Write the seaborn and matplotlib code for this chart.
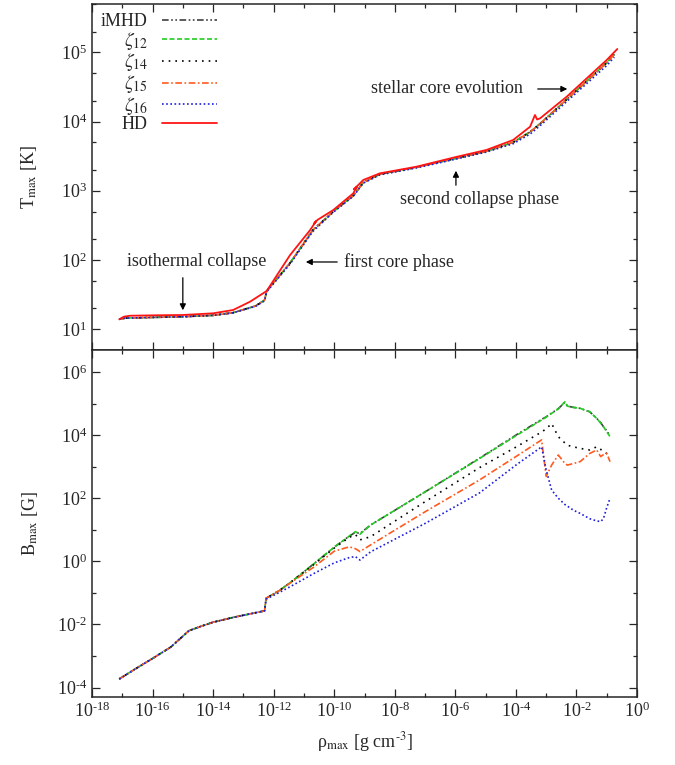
import numpy as np
import pandas as pd
import seaborn as sns
import matplotlib
matplotlib.use('Agg')
import matplotlib.pyplot as plt
from matplotlib.ticker import FixedLocator, LogLocator, NullFormatter, FuncFormatter

# 数据: log10(rho_max), log10(T_max), log10(B_max)，从原图上读出来的
# 上面板 T_max
lrho_T_hd = [-17.10, -16.95, -16.75, -16.0, -15.0, -14.0, -13.34, -12.78, -12.23, -11.46,
             -10.80, -10.60, -10.66, -10.55, -10.03, -9.37, -9.25, -9.35, -9.04, -8.49,
             -7.28, -5.96, -4.97, -4.09, -3.53, -3.37, -3.30, -3.20, -2.32, -1.00, -0.65]
lT_hd = [1.143, 1.18, 1.194, 1.20, 1.205, 1.229, 1.277, 1.397, 1.552, 2.07,
         2.43, 2.56, 2.53, 2.58, 2.722, 2.963, 3.06, 3.02, 3.156, 3.252,
         3.348, 3.49, 3.59, 3.734, 3.926, 4.095, 4.03, 4.047, 4.36, 4.89, 5.049]

lrho_T_mhd = [-17.10, -16.9, -16.0, -15.0, -14.0, -13.34, -12.6, -12.3, -12.23, -11.46,
              -10.71, -10.03, -9.37, -9.04, -8.49, -7.28, -5.96, -4.97, -4.09, -3.53,
              -3.2, -2.32, -1.0, -0.75]
lT_mhd = [1.143, 1.16, 1.17, 1.18, 1.20, 1.238, 1.335, 1.42, 1.552, 1.956,
          2.43, 2.70, 2.93, 3.12, 3.24, 3.34, 3.47, 3.57, 3.70, 3.85,
          3.97, 4.32, 4.85, 4.97]
lT_z16 = [1.143, 1.16, 1.17, 1.18, 1.20, 1.236, 1.33, 1.41, 1.54, 1.94,
          2.41, 2.69, 2.92, 3.11, 3.23, 3.33, 3.46, 3.56, 3.68, 3.82,
          3.94, 4.29, 4.81, 4.93]

# 下面板 B_max
lrho_B = [-17.1, -16.5, -16.0, -15.4, -14.8, -14.4, -14.0, -13.3, -12.7, -12.3, -12.25, -11.8,
          -11.35, -10.7, -10.0, -9.5, -9.3, -9.15, -8.8, -7.0, -5.2, -4.0, -3.15, -3.0,
          -2.82, -2.6, -2.38, -2.3, -2.1, -1.88, -1.56, -1.33, -1.2, -1.11, -1.0, -0.89]
lB_imhd = [-3.73, -3.37, -3.08, -2.72, -2.20, -2.06, -1.93, -1.77, -1.65, -1.57, -1.17, -0.92,
           -0.60, -0.10, 0.45, 0.80, 0.92, 0.88, 1.15, 2.20, 3.27, 4.00, 4.50, 4.58,
           4.70, 4.84, 5.04, 4.92, 4.88, 4.85, 4.74, 4.53, 4.40, 4.27, 4.14, 3.98]
lB_z12 = [-3.73, -3.37, -3.08, -2.72, -2.20, -2.06, -1.93, -1.77, -1.65, -1.57, -1.17, -0.92,
          -0.60, -0.10, 0.45, 0.80, 0.94, 0.86, 1.15, 2.20, 3.26, 3.98, 4.48, 4.57,
          4.69, 4.83, 5.06, 4.92, 4.88, 4.85, 4.74, 4.53, 4.38, 4.27, 4.11, 3.95]
lB_z14 = [-3.73, -3.37, -3.08, -2.72, -2.20, -2.06, -1.93, -1.77, -1.65, -1.57, -1.17, -0.92,
          -0.60, -0.12, 0.42, 0.76, 0.85, 0.68, 0.78, 1.89, 2.97, 3.62, 4.10, 4.20,
          4.37, 3.95, 3.75, 3.68, 3.63, 3.58, 3.53, 3.63, 3.55, 3.47, 3.42, 3.37]
lB_z15 = [-3.73, -3.37, -3.08, -2.72, -2.20, -2.06, -1.93, -1.77, -1.65, -1.57, -1.17, -0.92,
          -0.62, -0.20, 0.32, 0.46, 0.40, 0.31, 0.52, 1.57, 2.58, 3.32, 3.85, 2.69,
          3.05, 3.37, 3.10, 3.05, 3.10, 3.16, 3.42, 3.53, 3.32, 3.38, 3.42, 3.16]
lB_z16 = [-3.73, -3.37, -3.08, -2.72, -2.20, -2.06, -1.93, -1.77, -1.65, -1.57, -1.20, -0.98,
          -0.75, -0.40, -0.05, 0.12, 0.15, 0.04, 0.30, 1.20, 2.17, 3.05, 3.63, 2.90,
          2.26, 2.00, 1.80, 1.75, 1.62, 1.52, 1.35, 1.28, 1.26, 1.35, 1.70, 2.00]

labels = ['iMHD', r'$\zeta_{12}$', r'$\zeta_{14}$', r'$\zeta_{15}$', r'$\zeta_{16}$', 'HD']
colors = ['#404040', '#22cc22', '#000000', '#ff5a1f', '#1e1edc', '#ff1414']
styles = [(0, (4, 1.5, 1, 1.5, 1, 1.5)), (0, (3, 1.5)), (0, (1, 3)),
          (0, (4, 1.5, 1, 1.5)), (0, (1, 1.5)), '-']

sns.set_style('ticks')
plt.rcParams['font.family'] = ['Liberation Serif', 'DejaVu Serif']
plt.rcParams['mathtext.fontset'] = 'stix'
plt.rcParams['axes.unicode_minus'] = False
plt.rcParams['font.size'] = 13


# 刻度标签用短横线做负号，跟原图一样
def pow10(v, pos):
    e = int(round(np.log10(v)))
    if e < 0:
        return r'$\mathdefault{10^{\text{-}%d}}$' % (-e)
    return r'$\mathdefault{10^{%d}}$' % e


fig = plt.figure(figsize=(6.75, 7.65), dpi=100)
ax1 = fig.add_axes([92/675, 1-350/765, 545/675, 346/765])
ax2 = fig.add_axes([92/675, 1-697/765, 545/675, 347/765], sharex=ax1)

T_sets = [lT_mhd, lT_mhd, lT_mhd, lT_mhd, lT_z16]
for lab, c, ls, lt in zip(labels[:5], colors[:5], styles[:5], T_sets):
    sns.lineplot(x=10**np.array(lrho_T_mhd), y=10**np.array(lt), sort=False, estimator=None,
                 color=c, linestyle=ls, lw=1.2, label=lab, ax=ax1)
sns.lineplot(x=10**np.array(lrho_T_hd), y=10**np.array(lT_hd), sort=False, estimator=None,
             color=colors[5], linestyle='-', lw=1.3, label=labels[5], ax=ax1)

B_sets = [lB_imhd, lB_z12, lB_z14, lB_z15, lB_z16]
for lab, c, ls, lb in zip(labels[:5], colors[:5], styles[:5], B_sets):
    sns.lineplot(x=10**np.array(lrho_B), y=10**np.array(lb), sort=False, estimator=None,
                 color=c, linestyle=ls, lw=1.2, ax=ax2, legend=False)

for ax in (ax1, ax2):
    ax.set_xscale('log')
    ax.set_yscale('log')
    ax.set_xlim(1e-18, 1)
    ax.xaxis.set_major_locator(FixedLocator(10.0**np.arange(-18, 1, 2)))
    ax.xaxis.set_minor_locator(FixedLocator(10.0**np.arange(-17, 0, 2)))
    ax.xaxis.set_major_formatter(FuncFormatter(pow10))
    ax.xaxis.set_minor_formatter(NullFormatter())
    ax.tick_params(which='both', direction='in', top=True, right=True, labelsize=13)
    ax.tick_params(which='major', length=6, width=0.9)
    ax.tick_params(which='minor', length=3, width=0.9)
    for s in ax.spines.values():
        s.set_linewidth(1.1)

ax1.set_ylim(5, 5e5)
ax1.yaxis.set_major_locator(FixedLocator(10.0**np.arange(1, 6)))
ax1.yaxis.set_minor_locator(LogLocator(base=10, subs=(2, 5)))
ax1.yaxis.set_major_formatter(FuncFormatter(pow10))
ax1.yaxis.set_minor_formatter(NullFormatter())
ax1.tick_params(axis='x', labelbottom=False)
ax1.set_xlabel('')
ax1.set_ylabel(r'T$_{\rm max}$ [K]', fontsize=13, labelpad=16)

ax2.set_ylim(5e-5, 5e6)
ax2.yaxis.set_major_locator(FixedLocator(10.0**np.arange(-4, 7, 2)))
ax2.yaxis.set_minor_locator(FixedLocator(10.0**np.arange(-5, 7, 2)))
ax2.yaxis.set_major_formatter(FuncFormatter(pow10))
ax2.yaxis.set_minor_formatter(NullFormatter())
ax2.set_ylabel(r'B$_{\rm max}$ [G]', fontsize=13, labelpad=12)
ax2.set_xlabel(r'ρ$_{\rm max}$ [g cm$^{\text{-}3}$]', fontsize=13, labelpad=6)

leg = ax1.legend(loc='upper left', frameon=False, markerfirst=False, fontsize=13,
                 handlelength=3.0, handletextpad=0.8, labelspacing=-0.02,
                 borderaxespad=0.1, bbox_to_anchor=(0.0, 1.0), alignment='right')
for t in leg.get_texts()[1:5]:
    t.set_fontsize(14)

# 注释文字和箭头
ap = dict(arrowstyle='-|>', color='black', lw=0.9, mutation_scale=9)
ax1.text(10**-14.53, 93.5, 'isothermal collapse', ha='center', va='center', fontsize=13)
ax1.annotate('', xy=(1e-15, 17.1), xytext=(1e-15, 60.7), arrowprops=ap)
ax1.text(10**-7.86, 93.5, 'first core phase', ha='center', va='center', fontsize=13)
ax1.annotate('', xy=(10**-11.03, 93.5), xytext=(10**-9.81, 93.5), arrowprops=ap)
ax1.text(10**-5.19, 760, 'second collapse phase', ha='center', va='center', fontsize=13)
ax1.annotate('', xy=(10**-5.98, 2134), xytext=(10**-5.98, 1097), arrowprops=ap)
ax1.text(10**-6.29, 29570, 'stellar core evolution', ha='center', va='center', fontsize=13)
ax1.annotate('', xy=(10**-2.21, 29570), xytext=(10**-3.37, 29570), arrowprops=ap)

fig.savefig('out.png', dpi=100)
